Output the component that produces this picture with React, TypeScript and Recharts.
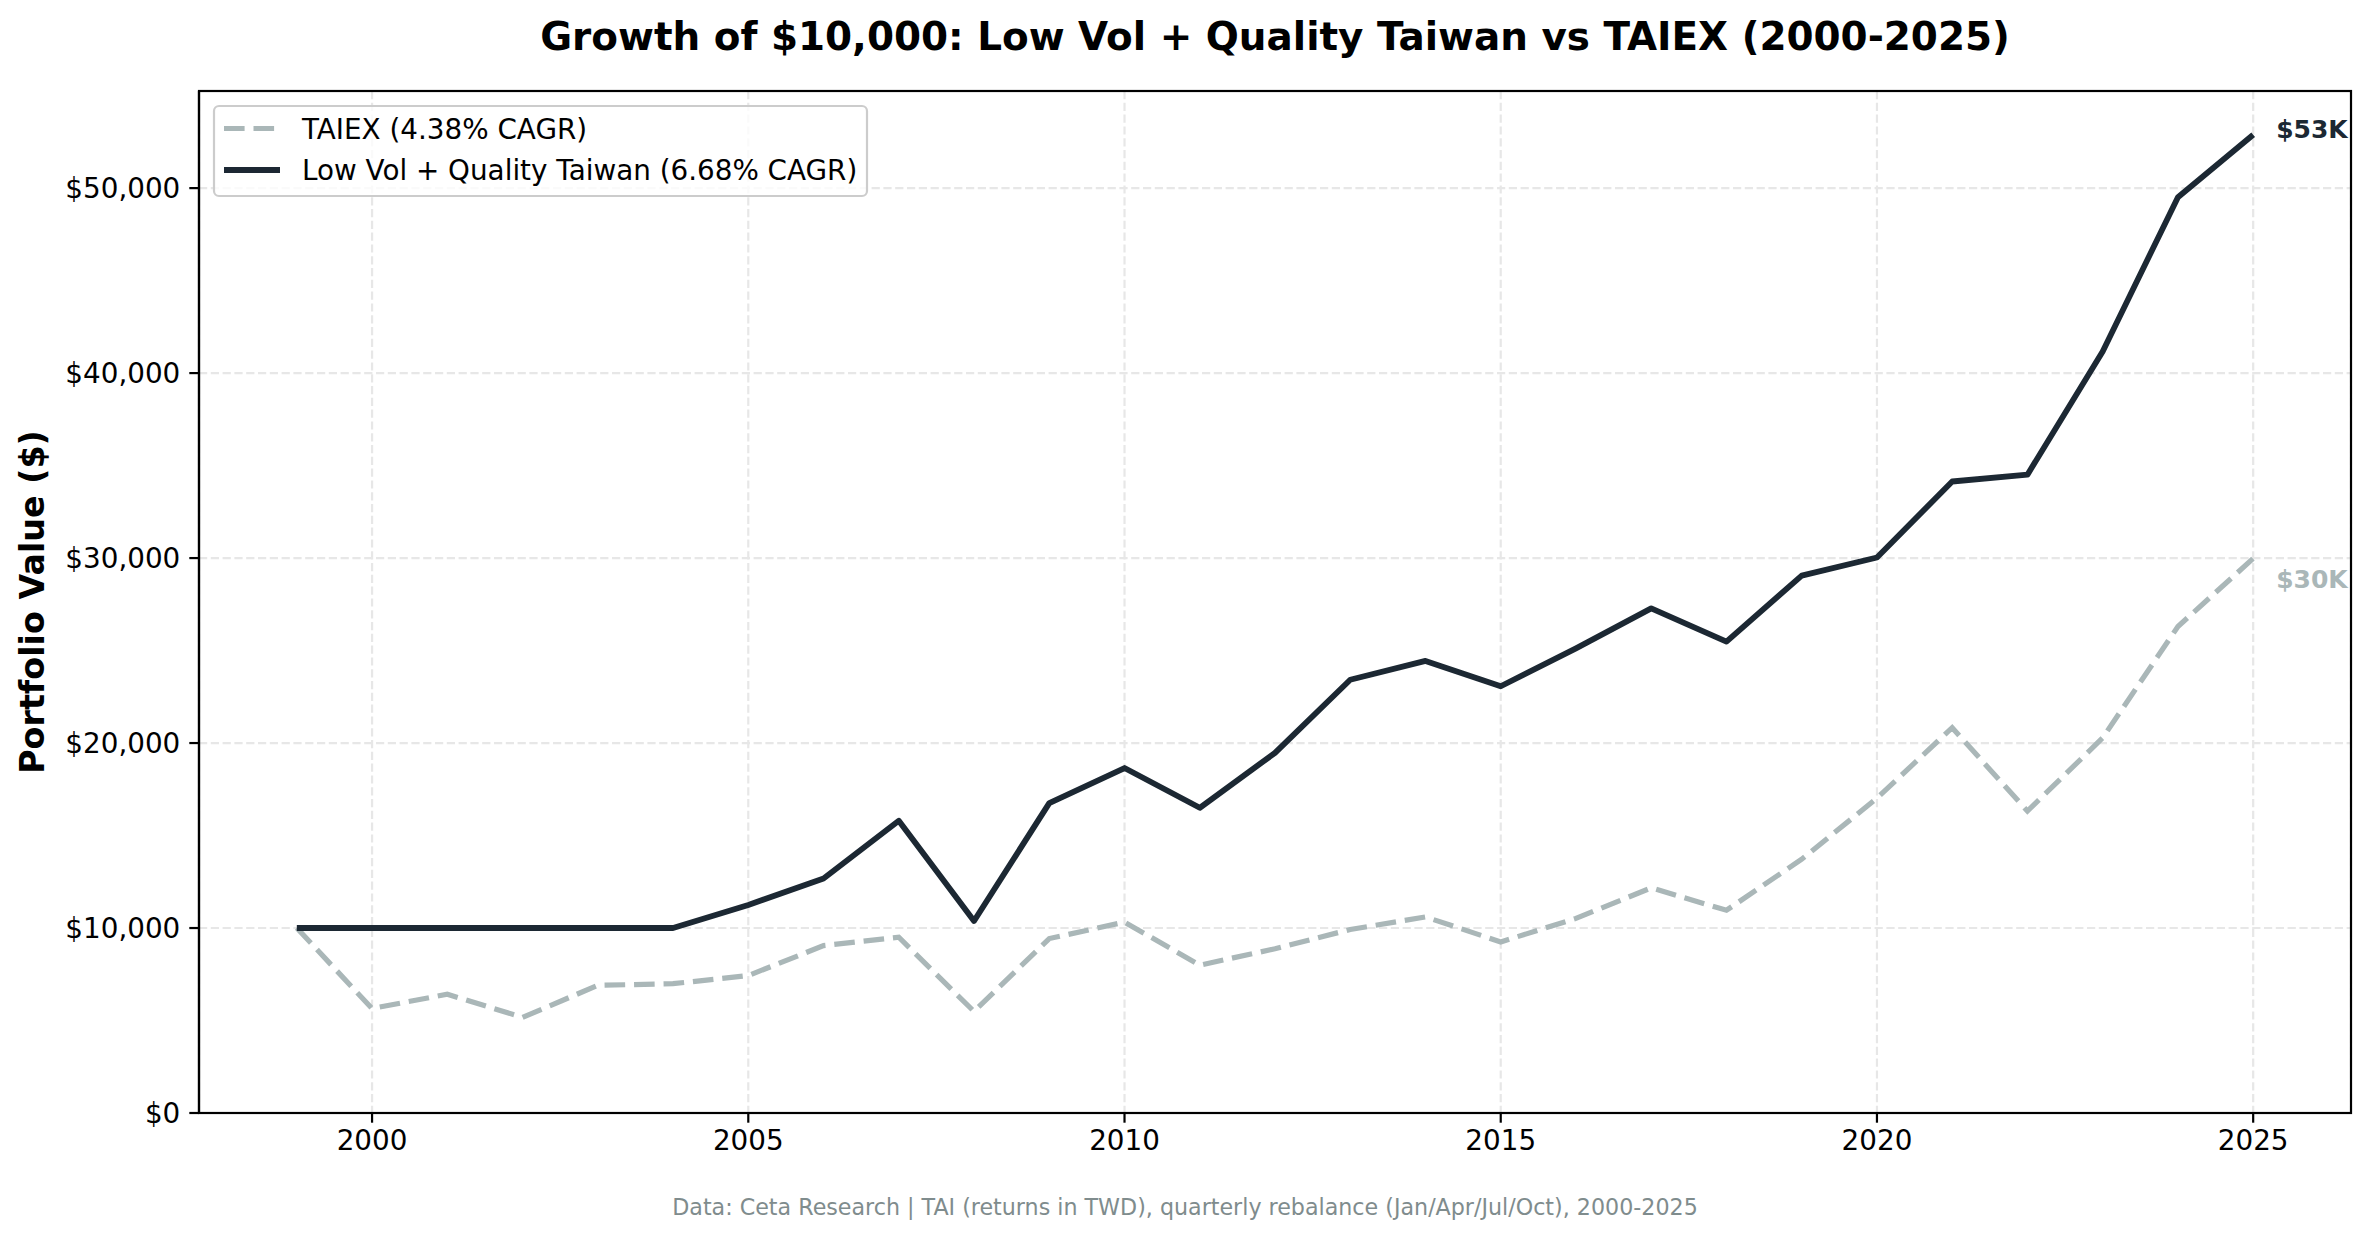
import { LineChart, Line, XAxis, YAxis, CartesianGrid, LabelList } from "recharts";

const years = [
  1999, 2000, 2001, 2002, 2003, 2004, 2005, 2006, 2007, 2008, 2009, 2010, 2011, 2012,
  2013, 2014, 2015, 2016, 2017, 2018, 2019, 2020, 2021, 2022, 2023, 2024, 2025,
];

const lowVolValues = [
  10000, 10000, 10000, 10000, 10000, 10000, 11250, 12680, 15800, 10380, 16750, 18650, 16500,
  19470, 23420, 24440, 23070, 25120, 27280, 25480, 29050, 30030, 34140, 34510, 41170, 49510,
  52880,
];

const taiexValues = [
  10000, 5650, 6420, 5170, 6900, 6990, 7430, 9050, 9500, 5490, 9430, 10320, 7990, 8880, 9920,
  10600, 9250, 10520, 12170, 10960, 13720, 17020, 20830, 16320, 20280, 26300, 29980,
];

const xTicks = [2000, 2005, 2010, 2015, 2020, 2025];
const yTicks = [0, 10000, 20000, 30000, 40000, 50000];

const endLabels = { lowVol: "$53K", taiex: "$30K" };

const data = years.map((year, i) => ({
  year,
  lowVol: lowVolValues[i],
  taiex: taiexValues[i],
}));

const DARK = "#1c2833";
const GREY = "#aab7b8";
const FONT = "DejaVu Sans";

function endLabel(text: string, color: string, dy: number) {
  return (props: any) => {
    if (props.index !== years.length - 1) return null;
    return (
      <text
        x={Number(props.x) + 23}
        y={Number(props.y) + dy}
        fill={color}
        fontSize={25}
        fontWeight="bold"
        fontFamily={FONT}
        textAnchor="start"
      >
        {text}
      </text>
    );
  };
}

export default function App() {
  return (
    <div
      style={{
        position: "absolute",
        left: 0,
        top: 0,
        width: 2370,
        height: 1239,
        background: "#fff",
        overflow: "hidden",
      }}
    >
      <LineChart
        width={2370}
        height={1239}
        data={data}
        margin={{ top: 91, right: 19, left: 0, bottom: 0 }}
      >
        <CartesianGrid stroke="#e7e7e7" strokeWidth={2.2} strokeDasharray="8.2 3.6" />
        <XAxis
          dataKey="year"
          type="number"
          domain={[1997.7, 2026.3]}
          ticks={xTicks}
          height={126}
          tickSize={9.7}
          tickMargin={8}
          axisLine={{ stroke: "#000", strokeWidth: 2.2 }}
          tickLine={{ stroke: "#000", strokeWidth: 2.2 }}
          tick={{ fill: "#000", fontSize: 27.8, fontFamily: FONT }}
        />
        <YAxis
          type="number"
          domain={[0, 55250]}
          ticks={yTicks}
          width={199}
          tickSize={9.7}
          tickMargin={9}
          axisLine={{ stroke: "#000", strokeWidth: 2.2 }}
          tickLine={{ stroke: "#000", strokeWidth: 2.2 }}
          tick={{ fill: "#000", fontSize: 27.8, fontFamily: FONT }}
          tickFormatter={(v: number) => "$" + v.toLocaleString("en-US")}
        />
        <Line
          type="linear"
          dataKey="taiex"
          stroke={GREY}
          strokeWidth={5.2}
          strokeDasharray="20.6 8.9"
          dot={false}
          activeDot={false}
          isAnimationActive={false}
        >
          <LabelList dataKey="taiex" content={endLabel(endLabels.taiex, GREY, 30)} />
        </Line>
        <Line
          type="linear"
          dataKey="lowVol"
          stroke={DARK}
          strokeWidth={5.8}
          strokeLinejoin="round"
          dot={false}
          activeDot={false}
          isAnimationActive={false}
        >
          <LabelList dataKey="lowVol" content={endLabel(endLabels.lowVol, DARK, 3)} />
        </Line>
      </LineChart>

      <svg
        width={2370}
        height={1239}
        style={{ position: "absolute", left: 0, top: 0, pointerEvents: "none" }}
        fontFamily={FONT}
      >
        <rect x={199} y={91} width={2152} height={1022} fill="none" stroke="#000" strokeWidth={2.2} />
        <text x={1275} y={50} textAnchor="middle" fontSize={38.9} fontWeight="bold" fill="#000">
          Growth of $10,000: Low Vol + Quality Taiwan vs TAIEX (2000-2025)
        </text>
        <text
          transform="rotate(-90)"
          x={-602}
          y={44}
          textAnchor="middle"
          fontSize={33.3}
          fontWeight="bold"
          fill="#000"
        >
          Portfolio Value ($)
        </text>
        <text x={1185} y={1215} textAnchor="middle" fontSize={22.2} fill="#7f8c8d">
          Data: Ceta Research | TAI (returns in TWD), quarterly rebalance (Jan/Apr/Jul/Oct), 2000-2025
        </text>

        <rect
          x={214}
          y={106}
          width={653}
          height={90}
          rx={5}
          fill="#fff"
          fillOpacity={0.8}
          stroke="#cccccc"
          strokeWidth={2.2}
        />
        <line x1={224} y1={128.5} x2={280} y2={128.5} stroke={GREY} strokeWidth={5.2} strokeDasharray="20.6 8.9" />
        <text x={302} y={138.5} fontSize={27.8} fill="#000">
          TAIEX (4.38% CAGR)
        </text>
        <line x1={224} y1={170} x2={280} y2={170} stroke={DARK} strokeWidth={5.8} />
        <text x={302} y={180} fontSize={27.8} fill="#000">
          Low Vol + Quality Taiwan (6.68% CAGR)
        </text>
      </svg>
    </div>
  );
}
